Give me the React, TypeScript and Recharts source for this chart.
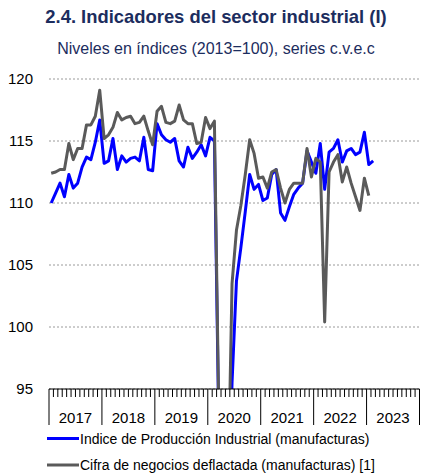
import { LineChart, Line, XAxis, YAxis, CartesianGrid } from 'recharts'

// ── Colores y tipografía ───────────────────────────────────
const FONT = 'Arial, "Liberation Sans", sans-serif'
const NAVY = '#1c2d5e'
const BLUE = '#0000ff'
const GRAY = '#5a5a5a'

// ── Datos (mensuales desde ene-2017) ───
const YEARS = [2017, 2018, 2019, 2020, 2021, 2022, 2023]

const IPI = [
  110.0, 110.8, 111.6, 110.5, 112.3, 111.2, 111.6, 112.9, 113.7, 113.5, 114.9, 116.7,
  113.2, 113.4, 115.2, 112.7, 113.8, 113.3, 113.6, 113.7, 113.4, 115.3, 112.7, 112.6,
  116.4, 115.5, 115.1, 114.9, 115.2, 113.4, 112.9, 114.5, 113.6, 114.1, 114.7, 113.8,
  115.3, 115.0, 92.0, 70.0, 82.0, 95.5, 103.7, 106.4, 109.3, 112.3, 111.1, 111.5,
  110.2, 110.4, 112.3, 112.7, 109.2, 108.6, 109.7, 110.7, 111.2, 111.6, 114.2, 113.3,
  112.4, 114.8, 111.1, 114.1, 114.4, 115.1, 113.3, 114.2, 114.4, 113.9, 114.1, 115.7,
  113.1, 113.4,
]

const CIFRA = [
  112.4, 112.5, 112.7, 112.7, 114.8, 113.5, 114.4, 114.4, 116.3, 116.3, 117.0, 119.1,
  115.2, 115.5, 116.1, 117.3, 116.7, 116.9, 117.0, 116.4, 116.5, 117.0, 115.8, 114.7,
  117.4, 117.8, 116.5, 116.4, 116.6, 117.9, 116.7, 116.4, 116.4, 114.8, 114.9, 116.9,
  116.0, 116.6, 93.0, 70.0, 85.0, 103.5, 107.8, 109.8, 112.3, 115.1, 114.0, 112.0,
  112.1, 111.2, 112.5, 112.7, 111.2, 110.0, 111.1, 111.6, 111.6, 111.6, 114.4, 112.1,
  113.6, 113.3, 100.4, 112.5, 113.3, 113.9, 111.7, 112.9, 111.6, 110.5, 109.4, 112.0,
  110.6,
]

const Y_TICKS = [95, 100, 105, 110, 115, 120]
const MONTHS = YEARS.length * 12
const MONTH_TICKS = Array.from({ length: MONTHS + 1 }, (_, i) => i)

const data = IPI.map((v, i) => ({ m: i + 0.5, ipi: v, cifra: CIFRA[i] }))

// ── Eje X: marcas mensuales, separadores anuales y años ────
function MonthTick({ x, y, payload }: { x: number; y: number; payload: { value: number } }) {
  const v = payload.value
  const yearStart = v % 12 === 0
  const mid = v % 12 === 6
  return (
    <g>
      <line x1={x} x2={x} y1={y} y2={y + (yearStart ? 36 : 8)} stroke="#000" strokeWidth={1} />
      {mid && (
        <text x={x} y={y + 34} textAnchor="middle" fontFamily={FONT} fontSize={15} fill="#000">
          {YEARS[Math.floor(v / 12)]}
        </text>
      )}
    </g>
  )
}

export default function App() {
  return (
    <div style={{ position: 'absolute', left: 0, top: 0, width: 421, height: 475, background: '#fff', overflow: 'hidden' }}>
      {/* Título y subtítulo */}
      <svg width={421} height={70} style={{ position: 'absolute', left: 0, top: 0 }}>
        <text x={216} y={22.5} textAnchor="middle" fontFamily={FONT} fontSize={18.4} fontWeight={700} fill={NAVY}>
          2.4. Indicadores del sector industrial (I)
        </text>
        <text x={216} y={54} textAnchor="middle" fontFamily={FONT} fontSize={16} fill={NAVY}>
          Niveles en índices (2013=100), series c.v.e.c
        </text>
      </svg>

      {/* Gráfica */}
      <div style={{ position: 'absolute', left: 0, top: 0 }}>
        <LineChart width={421} height={430} data={data} margin={{ top: 79, right: 1.5, bottom: 0, left: 0 }}>
          <CartesianGrid vertical={false} stroke="#9a9a9a" strokeDasharray="2 2" />
          <XAxis
            dataKey="m" type="number" domain={[0, MONTHS]} ticks={MONTH_TICKS} interval={0}
            height={41} tickSize={0} tickMargin={0} tickLine={false}
            axisLine={{ stroke: '#000', strokeWidth: 1 }}
            tick={MonthTick as any}
          />
          <YAxis
            type="number" domain={[95, 120]} ticks={Y_TICKS} allowDataOverflow width={49}
            axisLine={false} tickLine={false} tickSize={0} tickMargin={16}
            tick={{ fontFamily: FONT, fontSize: 15, fill: '#000' }}
          />
          <Line dataKey="ipi" stroke={BLUE} strokeWidth={3} dot={false} activeDot={false}
            strokeLinejoin="round" isAnimationActive={false} />
          <Line dataKey="cifra" stroke={GRAY} strokeWidth={3} dot={false} activeDot={false}
            strokeLinejoin="round" isAnimationActive={false} />
        </LineChart>
      </div>

      {/* Leyenda */}
      <svg width={421} height={50} style={{ position: 'absolute', left: 0, top: 425 }}>
        <line x1={47} x2={79} y1={13.5} y2={13.5} stroke={BLUE} strokeWidth={3} />
        <text x={80} y={19} fontFamily={FONT} fontSize={14} fill="#000">
          Indice de Producción Industrial (manufacturas)
        </text>
        <line x1={47} x2={79} y1={40} y2={40} stroke={GRAY} strokeWidth={3} />
        <text x={80} y={45} fontFamily={FONT} fontSize={14} fill="#000">
          Cifra de negocios deflactada (manufacturas) [1]
        </text>
      </svg>
    </div>
  )
}
